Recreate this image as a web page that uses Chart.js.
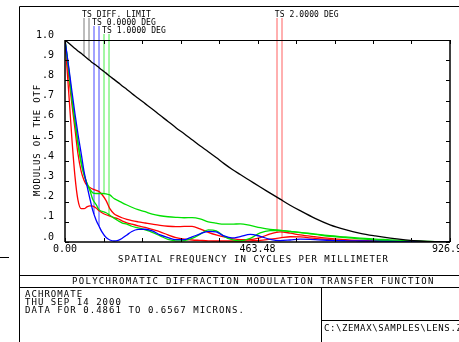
<!DOCTYPE html>
<html>
<head>
<meta charset="utf-8">
<script src="https://cdn.jsdelivr.net/npm/chart.js@4.4.0/dist/chart.umd.min.js"></script>
<style>
  html, body { margin: 0; padding: 0; background: #fff; }
  #mtf { display: block; }
</style>
</head>
<body>
<canvas id="mtf" width="459" height="342"></canvas>
<script>
// spatial frequency samples (cycles per millimeter)
const freqs = [0, 10, 17, 24, 31, 39, 46, 53, 60, 67, 75, 82, 89, 99, 108, 118, 128, 137, 149, 161,
  176, 193, 210, 229, 248, 267, 287, 306, 325, 345, 364, 383, 402, 422, 446, 470, 494, 518, 542, 566,
  602, 638, 675, 711, 747, 783, 819, 855, 891, 926.96];

// modulus of the OTF
const diffLimit = [1.000, 0.983, 0.970, 0.958, 0.946, 0.934, 0.922, 0.910, 0.898, 0.886, 0.875, 0.863, 0.851, 0.836, 0.820, 0.805, 0.789, 0.774, 0.755, 0.735,
  0.712, 0.685, 0.658, 0.627, 0.597, 0.566, 0.536, 0.506, 0.476, 0.447, 0.418, 0.388, 0.360, 0.334, 0.303, 0.272, 0.242, 0.212, 0.182, 0.155,
  0.117, 0.085, 0.061, 0.043, 0.030, 0.019, 0.011, 0.005, 0.0015, 0.000];
const field0 = [1.000, 0.850, 0.740, 0.635, 0.537, 0.438, 0.347, 0.278, 0.214, 0.155, 0.108, 0.078, 0.050, 0.022, 0.010, 0.005, 0.008, 0.017, 0.035, 0.052,
  0.062, 0.063, 0.055, 0.035, 0.022, 0.012, 0.012, 0.025, 0.040, 0.053, 0.050, 0.030, 0.020, 0.027, 0.038, 0.028, 0.013, 0.007, 0.010, 0.014,
  0.012, 0.008, 0.006, 0.005, 0.004, 0.003, 0.002, 0.001, 0.000, 0.000];
const field1T = [1.000, 0.830, 0.700, 0.595, 0.490, 0.390, 0.330, 0.290, 0.262, 0.243, 0.240, 0.240, 0.240, 0.238, 0.233, 0.215, 0.205, 0.195, 0.183, 0.172,
  0.160, 0.150, 0.138, 0.130, 0.125, 0.122, 0.120, 0.121, 0.115, 0.100, 0.093, 0.088, 0.088, 0.090, 0.082, 0.071, 0.063, 0.058, 0.053, 0.048,
  0.039, 0.031, 0.025, 0.019, 0.014, 0.011, 0.007, 0.004, 0.002, 0.000];
const field1S = [1.000, 0.840, 0.710, 0.600, 0.495, 0.395, 0.335, 0.290, 0.255, 0.210, 0.185, 0.160, 0.152, 0.145, 0.132, 0.118, 0.105, 0.095, 0.088, 0.078,
  0.070, 0.060, 0.048, 0.030, 0.013, 0.006, 0.007, 0.018, 0.038, 0.060, 0.055, 0.028, 0.012, 0.006, 0.018, 0.045, 0.056, 0.057, 0.052, 0.046,
  0.038, 0.028, 0.022, 0.015, 0.010, 0.007, 0.004, 0.002, 0.001, 0.000];
const field2T = [1.000, 0.800, 0.675, 0.560, 0.440, 0.350, 0.305, 0.280, 0.270, 0.262, 0.256, 0.250, 0.235, 0.205, 0.165, 0.140, 0.128, 0.120, 0.112, 0.106,
  0.100, 0.094, 0.088, 0.082, 0.078, 0.076, 0.077, 0.077, 0.065, 0.048, 0.035, 0.025, 0.017, 0.012, 0.012, 0.022, 0.040, 0.050, 0.044, 0.035,
  0.026, 0.018, 0.012, 0.008, 0.005, 0.003, 0.002, 0.001, 0.000, 0.000];
const field2S = [1.000, 0.710, 0.500, 0.325, 0.210, 0.165, 0.165, 0.174, 0.179, 0.178, 0.168, 0.155, 0.145, 0.135, 0.128, 0.121, 0.115, 0.105, 0.095, 0.088,
  0.080, 0.072, 0.062, 0.050, 0.035, 0.022, 0.014, 0.010, 0.008, 0.006, 0.005, 0.005, 0.005, 0.005, 0.006, 0.008, 0.014, 0.020, 0.026, 0.025,
  0.018, 0.012, 0.008, 0.006, 0.004, 0.003, 0.002, 0.001, 0.000, 0.000];

const xMax = 926.96;
const xTickLabels = ["0.00", "463.48", "926.96"];
const yTickLabels = [".0", ".1", ".2", ".3", ".4", ".5", ".6", ".7", ".8", ".9", "1.0"];

const legendNames = ["TS DIFF. LIMIT", "TS 0.0000 DEG", "TS 1.0000 DEG", "TS 2.0000 DEG"];
const legendFreqs = [41, 65, 89, 505];
const legendRows = [17, 25, 33, 17];
const legendColors = ["#7a7a7a", "#4646ff", "#46ee46", "#ff6060"];
const legendSeries = [[diffLimit, diffLimit], [field0, field0], [field1T, field1S], [field2T, field2S]];

const MONO = '"DejaVu Sans Mono", monospace';

function valueAt(vals, f) {
  for (let i = 1; i < freqs.length; i++) {
    if (f <= freqs[i]) {
      const t = (f - freqs[i - 1]) / (freqs[i] - freqs[i - 1]);
      return vals[i - 1] + t * (vals[i] - vals[i - 1]);
    }
  }
  return vals[vals.length - 1];
}

function text(ctx, str, x, y, size, spacing) {
  ctx.font = size + "px " + MONO;
  ctx.letterSpacing = spacing + "px";
  ctx.textAlign = "left";
  ctx.textBaseline = "alphabetic";
  ctx.fillText(str, x, y);
}

function line(ctx, x1, y1, x2, y2) {
  ctx.beginPath();
  ctx.moveTo(x1, y1);
  ctx.lineTo(x2, y2);
  ctx.stroke();
}

const framePlugin = {
  id: "zemaxFrame",
  beforeDatasetsDraw(chart) {
    const ctx = chart.ctx;
    const xs = chart.scales.x, ys = chart.scales.y;
    ctx.save();

    // legend: T and S markers hanging from each label down to its curve
    legendNames.forEach((name, k) => {
      const x0 = xs.getPixelForValue(legendFreqs[k]);
      ctx.strokeStyle = legendColors[k];
      ctx.lineWidth = 1;
      [2.4, 7.3].forEach((dx, j) => {
        const lx = Math.round(x0 + dx);
        const v = valueAt(legendSeries[k][j], xs.getValueForPixel(lx));
        line(ctx, lx, legendRows[k] + 1, lx, ys.getPixelForValue(v));
      });
    });
    ctx.restore();
  },
  afterDraw(chart) {
    const ctx = chart.ctx;
    const {left, right, top, bottom} = chart.chartArea;
    const xs = chart.scales.x, ys = chart.scales.y;
    ctx.save();
    ctx.strokeStyle = "#000";
    ctx.fillStyle = "#000";

    // page frame and title block
    ctx.lineWidth = 1;
    line(ctx, 19.5, 6.5, 459, 6.5);
    line(ctx, 19.5, 6.5, 19.5, 342);
    line(ctx, 19.5, 275.5, 459, 275.5);
    line(ctx, 19.5, 287.5, 459, 287.5);
    line(ctx, 321.5, 287.5, 321.5, 342);
    line(ctx, 321.5, 320.5, 459, 320.5);
    line(ctx, 0, 257.5, 9, 257.5);

    // plot box
    line(ctx, left, top + 0.5, right, top + 0.5);
    ctx.lineWidth = 1.5;
    line(ctx, left, top, left, bottom);
    line(ctx, right, top, right, bottom);
    line(ctx, left, bottom, right, bottom);

    // inward tick marks on all four sides
    ctx.lineWidth = 1;
    xs.ticks.forEach(t => {
      const px = Math.round(xs.getPixelForValue(t.value)) + 0.5;
      line(ctx, px, top, px, top + 4);
      line(ctx, px, bottom, px, bottom - 4);
    });
    ys.ticks.forEach(t => {
      const py = Math.round(ys.getPixelForValue(t.value)) + 0.5;
      line(ctx, left, py, left + 4, py);
      line(ctx, right, py, right - 4, py);
    });

    // legend labels
    legendNames.forEach((name, k) => {
      text(ctx, name, xs.getPixelForValue(legendFreqs[k]), legendRows[k], 8, 0.1);
    });

    // axis titles
    text(ctx, "SPATIAL FREQUENCY IN CYCLES PER MILLIMETER", 118, 262, 9, 1.03);
    ctx.save();
    ctx.translate(40, 196);
    ctx.rotate(-Math.PI / 2);
    text(ctx, "MODULUS OF THE OTF", 0, 0, 9, 0.8);
    ctx.restore();

    // title block texts
    text(ctx, "POLYCHROMATIC DIFFRACTION MODULATION TRANSFER FUNCTION", 72, 284, 9, 1.3);
    text(ctx, "ACHROMATE", 25, 297, 9, 1.05);
    text(ctx, "THU SEP 14 2000", 25, 305, 9, 1.05);
    text(ctx, "DATA FOR 0.4861 TO 0.6567 MICRONS.", 25, 313, 9, 1.05);
    text(ctx, "C:\\ZEMAX\\SAMPLES\\LENS.ZMX", 324, 331, 9, 0.6);
    ctx.restore();
  }
};

const curves = [
  {vals: diffLimit, color: "#000000"},
  {vals: field0, color: "#0000ff"},
  {vals: field1T, color: "#00e000"},
  {vals: field1S, color: "#00e000"},
  {vals: field2T, color: "#ff0000"},
  {vals: field2S, color: "#ff0000"}
];

new Chart(document.getElementById("mtf").getContext("2d"), {
  type: "line",
  data: {
    datasets: curves.map(c => ({
      data: freqs.map((f, i) => ({x: f, y: c.vals[i]})),
      borderColor: c.color,
      borderWidth: 1.3,
      pointRadius: 0,
      fill: false,
      cubicInterpolationMode: "monotone"
    }))
  },
  options: {
    responsive: false,
    animation: false,
    devicePixelRatio: 1,
    layout: {padding: {left: 0, top: 40, right: 9, bottom: 0}},
    plugins: {legend: {display: false}, tooltip: {enabled: false}},
    scales: {
      x: {
        type: "linear",
        min: 0,
        max: xMax,
        grid: {display: false, drawTicks: false},
        border: {display: false},
        afterBuildTicks: sc => {
          sc.ticks = Array.from({length: 11}, (_, i) => ({value: xMax * i / 10}));
        },
        ticks: {
          autoSkip: false,
          maxRotation: 0,
          padding: 1,
          color: "#000",
          font: {family: MONO, size: 10},
          callback: (v, i) => (i % 5 === 0 ? xTickLabels[i / 5] : "")
        },
        afterFit: sc => {
          sc.height = 100;
          sc.paddingLeft = 0;
          sc.paddingRight = 0;
        }
      },
      y: {
        min: 0,
        max: 1,
        grid: {display: false, drawTicks: false},
        border: {display: false},
        afterBuildTicks: sc => {
          sc.ticks = yTickLabels.map((_, i) => ({value: i / 10}));
        },
        ticks: {
          padding: 11,
          labelOffset: -5,
          color: "#000",
          font: {family: MONO, size: 10},
          callback: (v, i) => yTickLabels[i]
        },
        afterFit: sc => {
          sc.width = 65;
          sc.paddingTop = 0;
          sc.paddingBottom = 0;
        }
      }
    }
  },
  plugins: [framePlugin]
});
</script>
</body>
</html>
